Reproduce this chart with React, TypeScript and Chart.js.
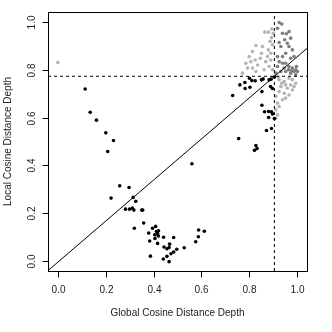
import React, { useEffect, useRef } from "react";
import { Chart, registerables } from "chart.js";

Chart.register(...registerables);

// Black points (below both thresholds)
const blackX = [0.115, 0.136, 0.162, 0.201, 0.233, 0.209, 0.259, 0.298, 0.223, 0.315, 0.326, 0.283, 0.300, 0.312, 0.318, 0.351, 0.355, 0.320, 0.359, 0.380, 0.396, 0.409, 0.384, 0.387, 0.405, 0.412, 0.416, 0.417, 0.421, 0.406, 0.420, 0.417, 0.442, 0.444, 0.456, 0.465, 0.467, 0.441, 0.456, 0.465, 0.473, 0.484, 0.497, 0.484, 0.528, 0.576, 0.587, 0.588, 0.612, 0.560,
  0.730, 0.760, 0.781, 0.782, 0.800, 0.802, 0.810, 0.824, 0.850, 0.857, 0.882, 0.890, 0.904, 0.852, 0.888, 0.896, 0.852, 0.863, 0.880, 0.880, 0.892, 0.896, 0.904, 0.871, 0.892, 0.755, 0.827, 0.832, 0.821];
const blackY = [0.719, 0.622, 0.589, 0.536, 0.504, 0.458, 0.315, 0.308, 0.264, 0.267, 0.251, 0.218, 0.218, 0.222, 0.214, 0.214, 0.214, 0.138, 0.160, 0.118, 0.138, 0.146, 0.085, 0.022, 0.111, 0.125, 0.124, 0.115, 0.128, 0.096, 0.106, 0.075, 0.101, 0.060, 0.053, 0.058, 0.072, 0.010, 0.021, -0.001, 0.032, 0.039, 0.051, 0.100, 0.057, 0.082, 0.103, 0.131, 0.126, 0.407,
  0.692, 0.736, 0.746, 0.721, 0.764, 0.726, 0.754, 0.753, 0.757, 0.761, 0.757, 0.760, 0.769, 0.708, 0.729, 0.721, 0.651, 0.624, 0.625, 0.600, 0.624, 0.615, 0.596, 0.546, 0.554, 0.512, 0.483, 0.471, 0.463];

// Light gray points (above one threshold)
const lightX = [0.001, 0.827, 0.864, 0.879, 0.893, 0.899, 0.886, 0.879, 0.850, 0.845, 0.813, 0.799, 0.785, 0.806, 0.792, 0.834, 0.824, 0.868, 0.875, 0.889, 0.861, 0.771, 0.827, 0.882, 0.896, 0.892, 0.896, 0.854, 0.813, 0.889,
  0.924, 0.945, 0.965, 0.979, 0.951, 0.972, 0.993, 0.931, 0.958, 0.979, 0.965, 0.945, 0.924, 0.910, 0.938, 0.917, 0.910, 0.924, 0.951, 0.917, 0.910, 0.935, 0.986, 0.921];
const lightY = [0.829, 0.900, 0.956, 0.956, 0.969, 0.951, 0.917, 0.882, 0.868, 0.847, 0.875, 0.854, 0.826, 0.833, 0.806, 0.819, 0.840, 0.833, 0.854, 0.840, 0.799, 0.785, 0.792, 0.813, 0.799, 0.933, 0.903, 0.896, 0.806, 0.868,
  0.757, 0.750, 0.764, 0.757, 0.736, 0.736, 0.743, 0.729, 0.722, 0.715, 0.694, 0.701, 0.708, 0.688, 0.674, 0.660, 0.632, 0.646, 0.681, 0.611, 0.597, 0.743, 0.729, 0.768];

// Dark gray points (above both thresholds)
const darkX = [0.924, 0.935, 0.917, 0.938, 0.954, 0.965, 0.972, 0.947, 0.924, 0.958, 0.931, 0.965, 0.979, 0.951, 0.917, 0.938, 0.972, 0.986, 0.924, 0.951, 0.965, 0.979, 0.993, 0.986, 0.972, 0.951, 1.0, 0.945, 0.917, 0.931, 0.910, 0.993, 0.976, 0.938, 0.963, 0.996];
const darkY = [0.996, 0.990, 0.972, 0.951, 0.949, 0.958, 0.931, 0.924, 0.913, 0.910, 0.896, 0.896, 0.882, 0.868, 0.854, 0.854, 0.847, 0.854, 0.833, 0.826, 0.813, 0.806, 0.799, 0.792, 0.785, 0.792, 0.792, 0.806, 0.813, 0.792, 0.785, 0.778, 0.796, 0.826, 0.799, 0.813];

const xThreshold = 0.904;
const yThreshold = 0.772;
const fitIntercept = -0.004;
const fitSlope = 0.858;

const tickValues = [0, 0.2, 0.4, 0.6, 0.8, 1.0];
const tickLabels = ["0.0", "0.2", "0.4", "0.6", "0.8", "1.0"];
const xTitle = "Global Cosine Distance Depth";
const yTitle = "Local Cosine Distance Depth";

const AXIS_MIN = -0.04;
const AXIS_MAX = 1.04;
const FONT = "10px 'Liberation Sans', Arial, sans-serif";

const zip = (xs: number[], ys: number[]) => xs.map((x, i) => ({ x, y: ys[i] }));

const rAxesPlugin = {
  id: "rAxes",
  afterDraw(chart: any) {
    const { ctx, chartArea, scales } = chart;
    const xs = scales.x;
    const ys = scales.y;
    ctx.save();
    ctx.strokeStyle = "#000";
    ctx.lineWidth = 1;
    ctx.setLineDash([]);
    ctx.strokeRect(
      Math.round(chartArea.left) + 0.5,
      Math.round(chartArea.top) + 0.5,
      Math.round(chartArea.right - chartArea.left),
      Math.round(chartArea.bottom - chartArea.top)
    );
    ctx.fillStyle = "#222";
    ctx.font = FONT;
    // x ticks
    ctx.textAlign = "center";
    ctx.textBaseline = "middle";
    const bottom = Math.round(chartArea.bottom) + 0.5;
    tickValues.forEach((v, i) => {
      const px = Math.round(xs.getPixelForValue(v)) + 0.5;
      ctx.beginPath();
      ctx.moveTo(px, bottom);
      ctx.lineTo(px, bottom + 6);
      ctx.stroke();
      ctx.fillText(tickLabels[i], px, bottom + 19);
    });
    ctx.fillText(xTitle, (chartArea.left + chartArea.right) / 2, bottom + 42);
    // y ticks
    const left = Math.round(chartArea.left) + 0.5;
    tickValues.forEach((v, i) => {
      const py = Math.round(ys.getPixelForValue(v)) + 0.5;
      ctx.beginPath();
      ctx.moveTo(left, py);
      ctx.lineTo(left - 6, py);
      ctx.stroke();
      ctx.save();
      ctx.translate(left - 16, py);
      ctx.rotate(-Math.PI / 2);
      ctx.fillText(tickLabels[i], 0, 0);
      ctx.restore();
    });
    ctx.save();
    ctx.translate(left - 40, (chartArea.top + chartArea.bottom) / 2);
    ctx.rotate(-Math.PI / 2);
    ctx.fillText(yTitle, 0, 0);
    ctx.restore();
    ctx.restore();
  },
};

export default function App() {
  const canvasRef = useRef<HTMLCanvasElement | null>(null);

  useEffect(() => {
    document.body.style.margin = "0";
    const canvas = canvasRef.current;
    if (!canvas) return;
    const pointStyle = (color: string, order: number) => ({
      backgroundColor: color,
      borderColor: color,
      borderWidth: 0,
      pointRadius: 1.8,
      showLine: false,
      order,
    });
    const lineStyle = (dash: number[]) => ({
      borderColor: "#000",
      borderWidth: 1,
      borderDash: dash,
      pointRadius: 0,
      showLine: true,
      fill: false,
      order: 0,
    });
    const chart = new Chart(canvas, {
      type: "scatter",
      data: {
        datasets: [
          { data: zip(lightX, lightY), ...pointStyle("#b4b4b4", 3) },
          { data: zip(darkX, darkY), ...pointStyle("#7e7e7e", 2) },
          { data: zip(blackX, blackY), ...pointStyle("#000000", 1) },
          {
            data: [
              { x: AXIS_MIN - 0.01, y: fitIntercept + fitSlope * (AXIS_MIN - 0.01) },
              { x: AXIS_MAX, y: fitIntercept + fitSlope * AXIS_MAX },
            ],
            ...lineStyle([]),
          },
          {
            data: [
              { x: xThreshold, y: AXIS_MIN },
              { x: xThreshold, y: AXIS_MAX },
            ],
            ...lineStyle([3, 3]),
          },
          {
            data: [
              { x: AXIS_MIN, y: yThreshold },
              { x: AXIS_MAX, y: yThreshold },
            ],
            ...lineStyle([3, 3]),
          },
        ] as any,
      },
      options: {
        animation: false,
        responsive: false,
        layout: { padding: { left: 48, right: 25, top: 12, bottom: 61 } },
        plugins: { legend: { display: false }, tooltip: { enabled: false } },
        scales: {
          x: { type: "linear", min: AXIS_MIN, max: AXIS_MAX, display: false },
          y: { type: "linear", min: AXIS_MIN, max: AXIS_MAX, display: false },
        },
      },
      plugins: [rAxesPlugin],
    });
    return () => chart.destroy();
  }, []);

  return (
    <div style={{ width: 332, height: 332, background: "#fff" }}>
      <canvas ref={canvasRef} width={332} height={332} />
    </div>
  );
}
